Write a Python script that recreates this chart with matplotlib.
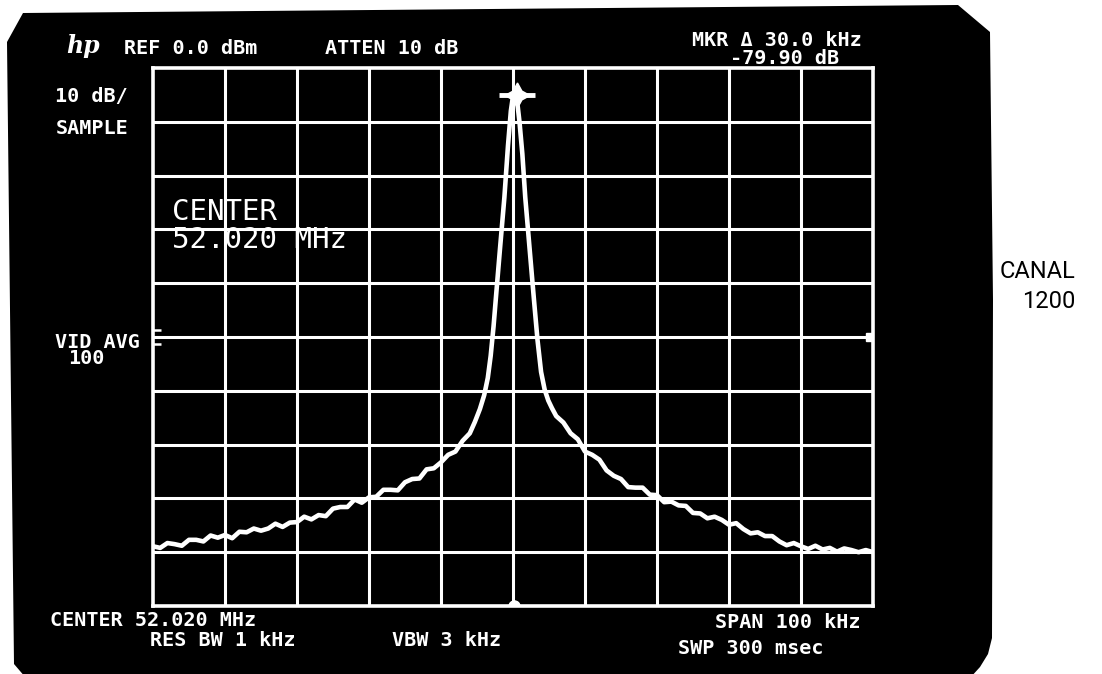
import numpy as np
import matplotlib
matplotlib.use('Agg')
import matplotlib.pyplot as plt
from matplotlib.patches import Polygon

W, H = 1102, 674

# trace: offset from centre (kHz) and level (dBm)
freq_left = [-50, -49, -48, -47, -46, -45, -44, -43, -42, -41,
             -40, -39, -38, -37, -36, -35, -34, -33, -32, -31,
             -30, -29, -28, -27, -26, -25, -24, -23, -22, -21,
             -20, -19, -18, -17, -16, -15, -14, -13, -12, -11,
             -10, -9, -8, -7, -6, -5.3, -4.6, -4.0, -3.5, -3.1,
             -2.7, -2.3, -1.8, -1.2, -0.7, -0.3, 0.0, 0.3]
level_left = [-88.9, -89.2, -88.3, -88.5, -88.8, -87.7, -87.7, -88.0, -86.9, -87.3,
              -86.8, -87.4, -86.2, -86.3, -85.6, -86.0, -85.6, -84.7, -85.3, -84.5,
              -84.4, -83.4, -83.9, -83.1, -83.3, -81.9, -81.6, -81.6, -80.2, -80.8,
              -79.8, -79.7, -78.4, -78.4, -78.5, -77.0, -76.4, -76.3, -74.6, -74.4,
              -73.3, -71.9, -71.3, -69.3, -67.9, -65.8, -63.4, -60.8, -57.6, -53.5,
              -48.0, -41.5, -33.5, -24.1, -14.5, -8.0, -5.2, -4.6]
freq_right = [0.6, 0.9, 1.3, 1.7, 2.3, 2.9, 3.4, 3.9, 4.4, 4.9,
              5.4, 6, 7, 8, 9, 10, 11, 12, 13, 14,
              15, 16, 17, 18, 19, 20, 21, 22, 23, 24,
              25, 26, 27, 28, 29, 30, 31, 32, 33, 34,
              35, 36, 37, 38, 39, 40, 41, 42, 43, 44,
              45, 46, 47, 48, 49, 50]
level_right = [-6.5, -10.0, -16.0, -24.0, -33.5, -42.9, -50.5, -56.5, -59.8, -61.8,
               -63.2, -64.7, -65.9, -67.9, -69.0, -71.3, -71.9, -72.8, -74.8, -75.8,
               -76.4, -77.9, -78.0, -78.0, -79.3, -79.4, -80.7, -80.6, -81.3, -81.4,
               -82.7, -82.8, -83.7, -83.4, -84.0, -84.9, -84.6, -85.7, -86.5, -86.3,
               -87.0, -87.0, -88.0, -88.7, -88.3, -88.9, -89.4, -88.8, -89.5, -89.2,
               -89.9, -89.3, -89.6, -90.0, -89.6, -90.0]

marker_f, marker_db = 0.5, -5.0

# screen annotations: text, x, y (pixels)
hdr_labels = [("REF 0.0 dBm", 124, 48), ("ATTEN 10 dB", 325, 48),
              ("MKR \u0394 30.0 kHz", 692, 40), ("-79.90 dB", 730, 58),
              ("10 dB/", 55, 96), ("SAMPLE", 56, 128),
              ("VID AVG", 55, 342), ("100", 68, 359),
              ("CENTER 52.020 MHz", 50, 620), ("RES BW 1 kHz", 150, 640),
              ("VBW 3 kHz", 392, 640), ("SPAN 100 kHz", 715, 622),
              ("SWP 300 msec", 678, 648)]


def fx(x):
    return x / W


def fy(y):
    return 1 - y / H


fig = plt.figure(figsize=(W / 100, H / 100), dpi=100)
fig.patch.set_facecolor('white')

# black CRT bezel
screen = [(7, 42), (23, 13), (958, 5), (990, 32), (993, 300), (992, 638),
          (988, 654), (980, 667), (970, 678), (26, 678), (14, 664)]
fig.add_artist(Polygon([(fx(x), fy(y)) for x, y in screen], closed=True,
                       transform=fig.transFigure, facecolor='black',
                       edgecolor='none', zorder=-5))

ax = fig.add_axes([fx(153), fy(606), 720 / W, 538 / H])
ax.set_facecolor('black')
ax.set_xlim(-50, 50)
ax.set_ylim(-100, 0)
ax.set_xticks(np.arange(-40, 50, 10))
ax.set_yticks(np.arange(-90, 0, 10))
ax.tick_params(length=0, labelbottom=False, labelleft=False)
ax.grid(True, color='white', lw=2.2)
for s in ax.spines.values():
    s.set_color('white')
    s.set_linewidth(2.6)

ax.plot(freq_left + freq_right, level_left + level_right, color='white',
        lw=3.3, solid_joinstyle='round', solid_capstyle='round')

# peak marker and delta marker dot
ax.plot(marker_f, marker_db, marker=(4, 1, 0), ms=18, color='white')
ax.plot(marker_f, marker_db, marker='_', ms=26, mew=3.5, color='white')
ax.plot(0.2, -100, marker='o', ms=8, color='white')

# threshold marks at the -50 dB line
ax.hlines([-48.7, -51.3], -50, -48.9, color='white', lw=1.8)
ax.plot(49.6, -50, marker='s', ms=6, color='white')

fig.text(fx(66), fy(46), "hp", color='white', ha='left', va='center',
         fontsize=17, family='DejaVu Serif', style='italic', weight='bold')
for s, x, y in hdr_labels:
    fig.text(fx(x), fy(y), s, color='white', ha='left', va='center',
             fontsize=14.5, family='DejaVu Sans Mono', weight='bold')

fig.text(fx(172), fy(212), "CENTER", color='white', ha='left', va='center',
         fontsize=21, family='DejaVu Sans Mono')
fig.text(fx(172), fy(240), "52.020 MHz", color='white', ha='left', va='center',
         fontsize=21, family='DejaVu Sans Mono')

fig.text(fx(1075), fy(272), "CANAL", color='black', ha='right', va='center',
         fontsize=17, family='Roboto')
fig.text(fx(1075), fy(302), "1200", color='black', ha='right', va='center',
         fontsize=17, family='Roboto')

fig.savefig('out.png', dpi=100, facecolor='white')
